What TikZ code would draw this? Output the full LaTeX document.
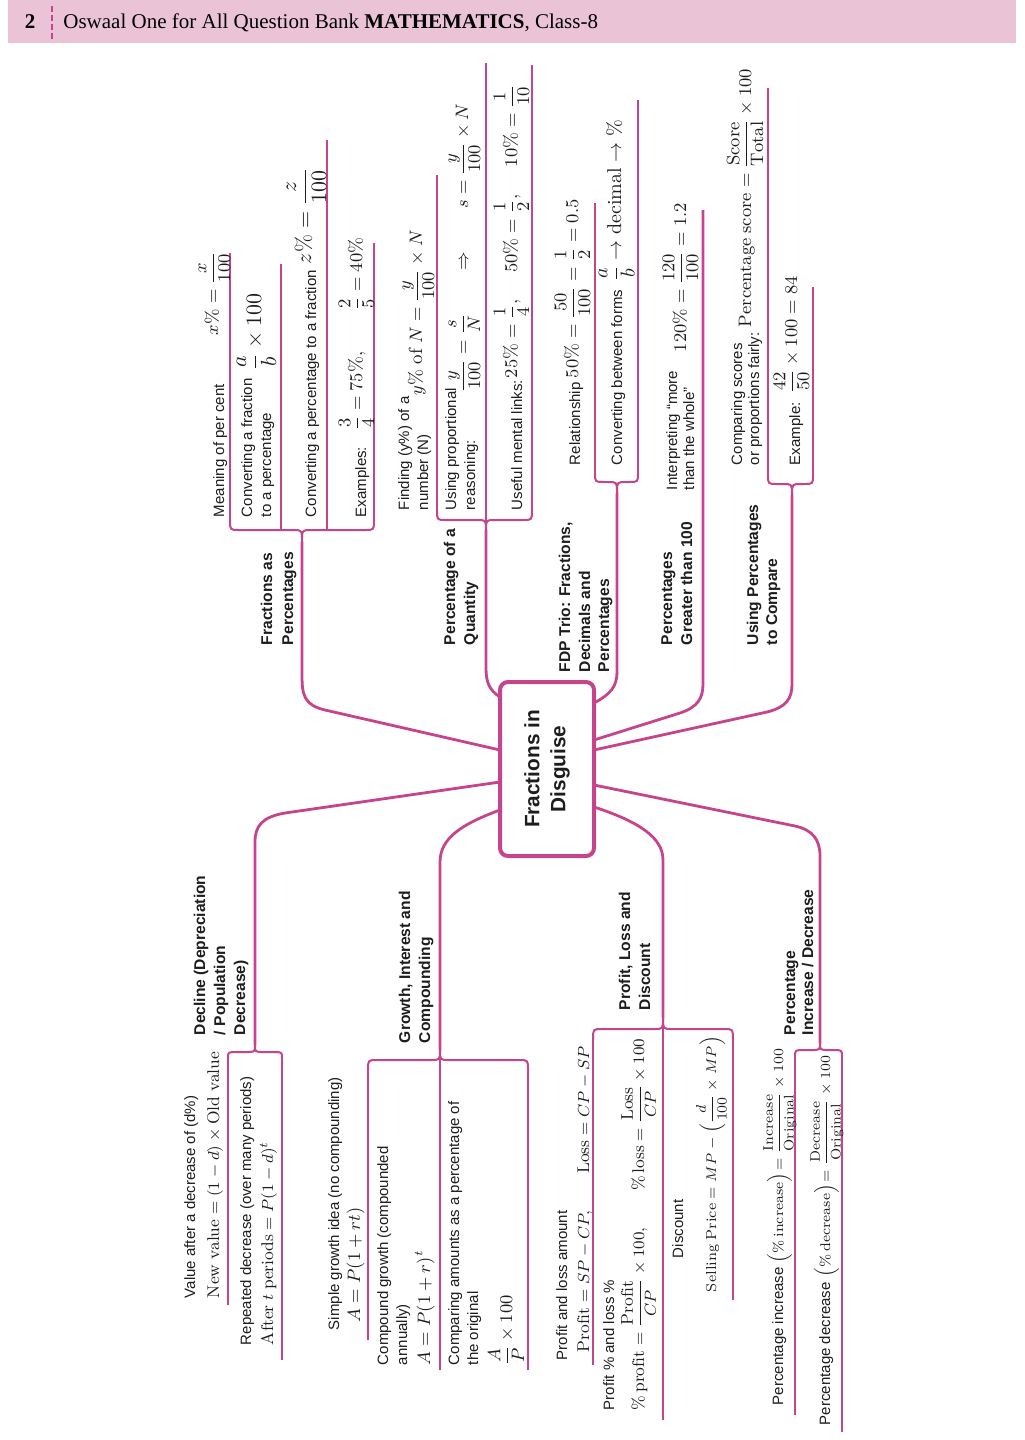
\documentclass[tikz,border=0pt]{standalone}
\usepackage{amsmath}
\usepackage{fontspec}
\setsansfont{Liberation Sans}
\renewcommand{\familydefault}{\sfdefault}
\newfontfamily\headfont{Liberation Serif}
\definecolor{mag}{RGB}{197,68,139}
\definecolor{hdr}{RGB}{234,196,214}
\definecolor{ink}{RGB}{30,28,30}
\newcommand{\mybrace}[6]{%
 \draw[uline] (#1,#4) .. controls (#1,#5) .. (#1+9,#5) -- (#3-9,#5) .. controls (#3,#5) .. (#3,#6);
 \draw[uline] (#2,#4) .. controls (#2,#5) .. (#2-9,#5) -- (#3+9,#5) .. controls (#3,#5) .. (#3,#6);}
\tikzset{
 txt/.style={rotate=90, anchor=base west, inner sep=0pt, outer sep=0pt, text=ink, font=\fontsize{7.5}{9}\selectfont},
 lbl/.style={txt, font=\fontsize{7.8}{9}\selectfont\bfseries},
 fm/.style={txt, font=\fontsize{#1}{11}\selectfont},
 conn/.style={draw=mag, line width=1.4pt, line join=round},
 uline/.style={draw=mag, line width=1pt, line join=round},
}
\begin{document}
\begin{tikzpicture}[x=0.5pt,y=-0.5pt]
\useasboundingbox (0,0) rectangle (1024,1440);
% header
\fill[hdr] (8,0) rectangle (1016,43);
\node[anchor=base, inner sep=0, font=\headfont\bfseries\fontsize{10.5}{12}\selectfont] (pg) at (30,28) {2};
\draw[mag, line width=1pt, dash pattern=on 3pt off 1.5pt] (52,6) -- (52,39);
\node[anchor=base west, inner sep=0, font=\headfont\fontsize{10.5}{12}\selectfont] (ht) at (63,28) {Oswaal One for All Question Bank \textbf{MATHEMATICS}, Class-8};

% centre
\node[draw=mag, line width=2pt, rounded corners=4pt, rotate=90, minimum width=87pt, minimum height=47pt, align=center, inner sep=0, text=ink, font=\bfseries\fontsize{10.4}{13}\selectfont] (ctr) at (547,769) {Fractions in\\Disguise};

% ---------- A: Fractions as Percentages
\coordinate (eA) at (500,750);
\coordinate (tA) at (302,542);
\draw[conn] (eA) -- (325,710) .. controls (304,705) and (302,695) .. (302,675) -- (tA);
\mybrace{230}{374}{302}{520}{530}{542}
\draw[uline] (230,253) -- (230,520);
\draw[uline] (281,264) -- (281,530);
\draw[uline] (327,140) -- (327,530);
\draw[uline] (374,243) -- (374,520);
\node[lbl] (aL1) at (272,645) {Fractions as};
\node[lbl] (aL2) at (293,645) {Percentages};
\node[txt] (a1a) at (224,517) {Meaning of per cent};
\node[fm=9] (a1b) at (218,335) {$x\% = \dfrac{x}{100}$};
\node[txt] (a2a) at (252,517) {Converting a fraction};
\node[txt] (a2b) at (271,517) {to a percentage};
\node[fm=11] (a2c) at (261,370) {$\dfrac{a}{b}\times 100$};
\node[txt] (a3a) at (316,517) {Converting a percentage to a fraction};
\node[fm=11] (a3b) at (311,264) {$z\% = \dfrac{z}{100}$};
\node[txt] (a4a) at (366,517) {Examples:};
\node[fm=9.5] (a4b) at (362,430) {$\dfrac{3}{4} = 75\%,\qquad \dfrac{2}{5} = 40\%$};

% ---------- B: Percentage of a Quantity
\coordinate (eB) at (500,697);
\coordinate (tB) at (486,530);
\draw[conn] (eB) .. controls (489,690) and (486,682) .. (486,668) -- (tB);
\mybrace{437}{532}{486}{510}{520}{530}
\draw[uline] (437,175) -- (437,510);
\draw[uline] (486,63) -- (486,530);
\draw[uline] (532,65) -- (532,510);
\node[lbl] (bL1) at (455,645) {Percentage of a};
\node[lbl] (bL2) at (475,645) {Quantity};
\node[txt] (b1a) at (409,510) {Finding (y\%) of a};
\node[txt] (b1b) at (428,510) {number (N)};
\node[fm=9.5] (b1c) at (422,395) {$y\%\ \mathrm{of}\ N = \dfrac{y}{100}\times N$};
\node[txt] (b2a) at (456,510) {Using proportional};
\node[txt] (b2b) at (475,510) {reasoning:};
\node[fm=9.5] (b2c) at (468,392) {$\dfrac{y}{100} = \dfrac{s}{N}\qquad\Rightarrow\qquad s = \dfrac{y}{100}\times N$};
\node[txt] (b3a) at (522,510) {Useful mental links:};
\node[fm=9.5] (b3b) at (517,378) {$25\% = \dfrac{1}{4},\quad\; 50\% = \dfrac{1}{2},\quad\; 10\% = \dfrac{1}{10}$};

% ---------- C: FDP
\coordinate (eC) at (594,703);
\coordinate (tC) at (617,493);
\draw[conn] (eC) .. controls (611,694) and (617,686) .. (617,672) -- (tC);
\mybrace{595}{638}{617}{473}{482}{493}
\draw[uline] (595,203) -- (595,473);
\draw[uline] (638,100) -- (638,473);
\node[lbl] (cL1) at (570,672) {FDP Trio: Fractions,};
\node[lbl] (cL2) at (590,672) {Decimals and};
\node[lbl] (cL3) at (609,672) {Percentages};
\node[txt] (c1a) at (580,465) {Relationship};
\node[fm=9.5] (c1b) at (578,378) {$50\% = \dfrac{50}{100} = \dfrac{1}{2} = 0.5$};
\node[txt] (c2a) at (622,465) {Converting between forms};
\node[fm=10] (c2b) at (621,281) {$\dfrac{a}{b}\rightarrow \mathrm{decimal}\rightarrow \%$};

% ---------- D: Percentages greater than 100
\coordinate (eD) at (594,740);
\coordinate (dTop) at (703,210);
\draw[conn] (eD) -- (680,713) .. controls (698,707) and (703,698) .. (703,684) -- (dTop);
\node[lbl] (dL1) at (672,645) {Percentages};
\node[lbl] (dL2) at (692,645) {Greater than 100};
\node[txt] (d1a) at (677,490) {Interpreting “more};
\node[txt] (d1b) at (694,490) {than the whole”};
\node[fm=9] (d1c) at (686,352) {$120\% = \dfrac{120}{100} = 1.2$};

% ---------- E: Using Percentages to Compare
\coordinate (eE) at (594,750);
\coordinate (tE) at (792,495);
\draw[conn] (eE) -- (767,712) .. controls (787,707) and (792,698) .. (792,684) -- (tE);
\mybrace{768}{813}{792}{475}{484}{495}
\draw[uline] (768,88) -- (768,475);
\draw[uline] (813,287) -- (813,475);
\node[lbl] (eL1) at (758,645) {Using Percentages};
\node[lbl] (eL2) at (777,645) {to Compare};
\node[txt] (e1a) at (742,465) {Comparing scores};
\node[txt] (e1b) at (759,465) {or proportions fairly:};
\node[fm=9] (e1c) at (751,327) {$\mathrm{Percentage\ score} = \dfrac{\mathrm{Score}}{\mathrm{Total}}\times 100$};
\node[txt] (e2a) at (800,465) {Example:};
\node[fm=9] (e2b) at (797,393) {$\dfrac{42}{50}\times 100 = 84$};

% ---------- F: Decline
\coordinate (eF) at (500,782);
\coordinate (tF) at (255,1045);
\draw[conn] (eF) -- (285,813) .. controls (262,817) and (255,826) .. (255,842) -- (tF);
\mybrace{228}{282}{255}{1058}{1052}{1045}
\draw[uline] (228,1058) -- (228,1305);
\draw[uline] (282,1058) -- (282,1360);
\node[lbl] (fL1) at (205,1035) {Decline (Depreciation};
\node[lbl] (fL2) at (225,1035) {/ Population};
\node[lbl] (fL3) at (245,1035) {Decrease)};
\node[txt] (f1a) at (195,1298) {Value after a decrease of (d\%)};
\node[fm=8.5] (f1b) at (219,1298) {$\mathrm{New\ value} = (1-d)\times\mathrm{Old\ value}$};
\node[txt] (f2a) at (251,1345) {Repeated decrease (over many periods)};
\node[fm=8.5] (f2b) at (273,1345) {$\mathrm{After}\ t\ \mathrm{periods} = P(1-d)^t$};

% ---------- G: Growth
\coordinate (eG) at (500,810);
\coordinate (tG) at (440,1050);
\draw[conn] (eG) .. controls (462,824) and (440,838) .. (440,862) -- (tG);
\mybrace{368}{528}{440}{1070}{1060}{1050}
\draw[uline] (368,1070) -- (368,1340);
\draw[uline] (440,1050) -- (440,1370);
\draw[uline] (528,1070) -- (528,1370);
\node[lbl] (gL1) at (410,1043) {Growth, Interest and};
\node[lbl] (gL2) at (430,1043) {Compounding};
\node[txt] (g1a) at (339,1330) {Simple growth idea (no compounding)};
\node[fm=9] (g1b) at (360,1322) {$A = P(1+rt)$};
\node[txt] (g2a) at (388,1365) {Compound growth (compounded};
\node[txt] (g2b) at (407,1365) {annually)};
\node[fm=9] (g2c) at (430,1365) {$A = P(1+r)^t$};
\node[txt] (g3a) at (459,1365) {Comparing amounts as a percentage of};
\node[txt] (g3b) at (478,1365) {the original};
\node[fm=9.5] (g3c) at (512,1365) {$\dfrac{A}{P}\times 100$};

% ---------- H: Profit
\coordinate (eH) at (594,807);
\coordinate (tH) at (663,1018);
\draw[conn] (eH) .. controls (640,822) and (663,838) .. (663,860) -- (tH);
\mybrace{593}{733}{663}{1040}{1029}{1018}
\draw[uline] (593,1040) -- (593,1365);
\draw[uline] (663,1018) -- (663,1420);
\draw[uline] (733,1040) -- (733,1300);
\node[lbl] (hL1) at (630,1010) {Profit, Loss and};
\node[lbl] (hL2) at (650,1010) {Discount};
\node[txt] (h1a) at (567,1360) {Profit and loss amount};
\node[fm=8.5] (h1b) at (589,1352) {$\mathrm{Profit} = SP - CP,\qquad \mathrm{Loss} = CP - SP$};
\node[txt] (h2a) at (614,1410) {Profit \% and loss \%};
\node[fm=8.5] (h2b) at (644,1410) {$\%\,\mathrm{profit} = \dfrac{\mathrm{Profit}}{CP}\times 100,\qquad \%\,\mathrm{loss} = \dfrac{\mathrm{Loss}}{CP}\times 100$};
\node[txt] (h3a) at (683,1258) {Discount};
\node[fm=7.2] (h3b) at (716,1292) {$\mathrm{Selling\ Price} = MP - \Bigl(\dfrac{d}{100}\times MP\Bigr)$};

% ---------- I: Percentage increase / decrease
\coordinate (eI) at (594,785);
\coordinate (tI) at (820,1043);
\draw[conn] (eI) -- (795,826) .. controls (813,830) and (820,840) .. (820,856) -- (tI);
\mybrace{795}{842}{820}{1057}{1050}{1043}
\draw[uline] (795,1057) -- (795,1415);
\draw[uline] (842,1057) -- (842,1432);
\node[lbl] (iL1) at (795,1035) {Percentage};
\node[lbl] (iL2) at (813,1035) {Increase / Decrease};
\node[txt] (i1a) at (783,1405) {Percentage increase};
\node[fm=7] (i1b) at (783,1263) {$\Bigl(\%\,\mathrm{increase}\Bigr)\!= \dfrac{\mathrm{Increase}}{\mathrm{Original}}\times 100$};
\node[txt] (i2a) at (830,1425) {Percentage decrease};
\node[fm=7] (i2b) at (830,1277) {$\Bigl(\%\,\mathrm{decrease}\Bigr)\!= \dfrac{\mathrm{Decrease}}{\mathrm{Original}}\times 100$};
\end{tikzpicture}
\end{document}
